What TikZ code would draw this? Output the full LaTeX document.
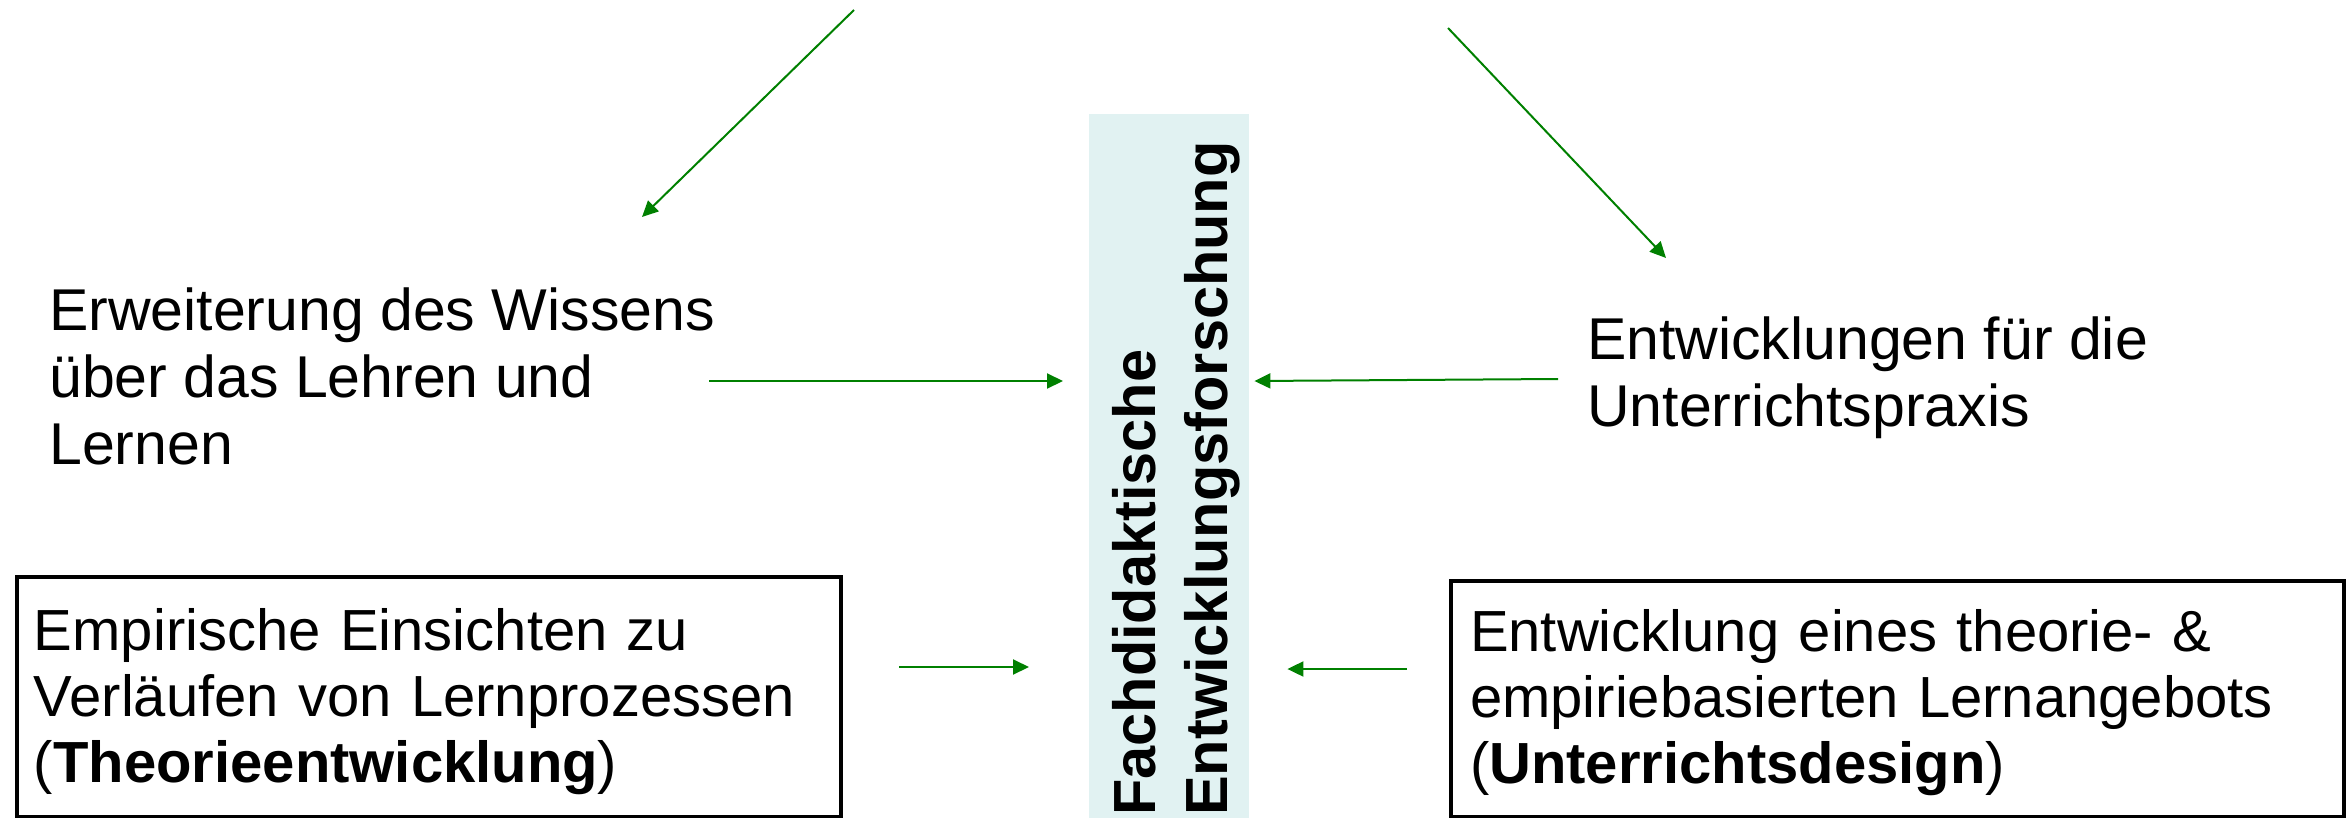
\documentclass[tikz,border=0pt]{standalone}
\usepackage{fontspec}
\setmainfont{Liberation Sans}
\usetikzlibrary{arrows.meta,calc}
\definecolor{arrgreen}{RGB}{0,128,0}
\definecolor{boxcyan}{RGB}{225,242,242}
\tikzset{
  txt/.style={font=\fontsize{59}{67}\selectfont, inner sep=0pt, align=left, anchor=north west},
  framebox/.style={draw=black, line width=4pt, font=\fontsize{58}{66}\selectfont, align=left, anchor=north west, inner ysep=0pt},
  arr/.style={draw=arrgreen, line width=2pt, -{Triangle[length=16pt,width=15pt]}},
}
\begin{document}
\begin{tikzpicture}[x=1pt,y=-1pt]
\useasboundingbox (0,0) rectangle (2351,817);
\clip (0,0) rectangle (2351,817);
% central box
\node[fill=boxcyan, minimum width=160pt, minimum height=720pt, anchor=north west, inner sep=0pt] (fde) at (1089,114) {};
\node[font=\bfseries\fontsize{59.5}{72}\selectfont, rotate=90, anchor=south west, inner sep=0pt, align=left] (fdt) at (1240,816) {Fachdidaktische\\Entwicklungsforschung};
% texts
\node[txt] (erw) at (49,288) {Erweiterung des Wissens\\über das Lehren und\\Lernen};
\node[txt] (ent) at (1587,317) {Entwicklungen für die\\Unterrichtspraxis};
% framed boxes
\node[framebox, minimum width=821pt, minimum height=240pt, text width=790pt, inner xsep=17pt] (theo) at (15,575) {\rule{0pt}{51pt}Empirische Einsichten zu\\Verläufen von Lernprozessen\\(\textbf{Theorieentwicklung})};
\node[framebox, minimum width=893pt, minimum height=236pt, text width=855pt, inner xsep=19pt] (design) at (1449,579) {\rule{0pt}{49pt}Entwicklung eines theorie- \&\\empiriebasierten Lernangebots\\(\textbf{Unterrichtsdesign})};
% free ends of the top arrows
\coordinate (tls) at (854,10);
\coordinate (tle) at (642,217);
\coordinate (trs) at (1448,28);
\coordinate (tre) at (1666,258);
% arrows
\draw[arr] (tls) -- (tle);
\draw[arr] (trs) -- (tre);
\draw[arr] ([xshift=-6pt]erw.east |- 0,381) -- ([xshift=-26pt]fde.west |- 0,381);
\draw[arr] ([xshift=-29pt]ent.west |- 0,379) -- ([xshift=5pt]fde.east |- 0,381);
\draw[arr] ([xshift=56pt]theo.east |- 0,667) -- ([xshift=-60pt]fde.west |- 0,667);
\draw[arr] ([xshift=-42pt]design.west |- 0,669) -- ([xshift=38pt]fde.east |- 0,669);
\end{tikzpicture}
\end{document}
